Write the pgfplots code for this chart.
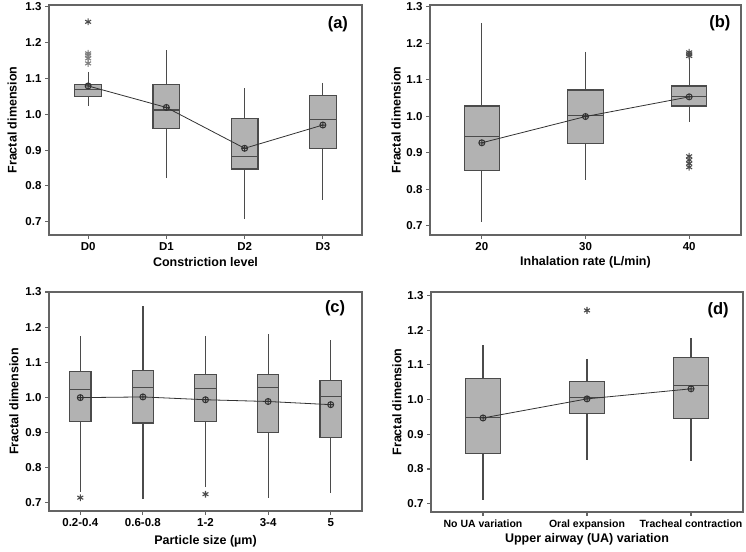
\documentclass[border=0pt]{standalone}
\usepackage{fontspec}
\setmainfont{Liberation Sans}
\usepackage{pgfplots}
\pgfplotsset{compat=1.18}
\usepgfplotslibrary{statistics}

\definecolor{boxfill}{RGB}{178,178,178}
\definecolor{boxline}{RGB}{75,75,75}
\definecolor{axisgray}{RGB}{100,100,100}
\definecolor{meanline}{RGB}{50,50,50}

\tikzset{tag/.style={font=\bfseries\fontsize{16.5}{19}\selectfont, anchor=center}}
\pgfplotsset{
  panel/.style={
    scale only axis,
    clip=false,
    axis line style={axisgray, line width=1.1pt},
    tick style={axisgray, line width=1.1pt},
    tick align=outside,
    xtick pos=bottom, ytick pos=left,
    major tick length=4pt,
    ytick={0.7,0.8,0.9,1.0,1.1,1.2,1.3},
    /pgf/number format/assume math mode=true,
    yticklabel style={/pgf/number format/.cd, fixed, fixed zerofill, precision=1},
    tick label style={font=\bfseries\fontsize{11.5}{13}\selectfont},
    label style={font=\bfseries\fontsize{12.5}{15}\selectfont},
    ylabel={Fractal dimension},
    boxplot/draw direction=y,
    boxplot/whisker extend=0,
  },
  bx/.style={boxline, line width=1.2pt, fill=boxfill, solid},
  out/.style={only marks, mark=asterisk, mark size=3.4pt, boxline, mark options={line width=1.1pt}},
  mn/.style={meanline, line width=0.8pt, mark=oplus, mark size=3pt, mark options={line width=1pt}},
}

\begin{document}
\begin{tikzpicture}
\useasboundingbox (0pt,0pt) rectangle (746pt,551pt);

% (a)
\begin{axis}[panel, at={(49pt,316pt)}, anchor=south west,
  width=313pt, height=230pt,
  xmin=0.5, xmax=4.5, ymin=0.663, ymax=1.305,
  xtick={1,2,3,4}, xticklabels={D0,D1,D2,D3},
  xlabel={Constriction level},
  xlabel style={at={(axis description cs:0.5,-0.117)}, anchor=center},
  ylabel style={at={(axis description cs:-0.118,0.5)}, anchor=center}]
\addplot[bx, boxplot prepared={draw position=1, box extend=0.34,
  lower whisker=1.023, lower quartile=1.049, median=1.069, upper quartile=1.084, upper whisker=1.119}] coordinates {};
\addplot[bx, boxplot prepared={draw position=2, box extend=0.34,
  lower whisker=0.821, lower quartile=0.960, median=1.012, upper quartile=1.083, upper whisker=1.179}] coordinates {};
\addplot[bx, boxplot prepared={draw position=3, box extend=0.34,
  lower whisker=0.707, lower quartile=0.847, median=0.883, upper quartile=0.988, upper whisker=1.072}] coordinates {};
\addplot[bx, boxplot prepared={draw position=4, box extend=0.34,
  lower whisker=0.762, lower quartile=0.905, median=0.986, upper quartile=1.052, upper whisker=1.088}] coordinates {};
\addplot[out] coordinates {(1,1.258)};
\addplot[out, gray] coordinates {(1,1.170) (1,1.165) (1,1.156) (1,1.142)};
\addplot[mn] coordinates {(1,1.079) (2,1.019) (3,0.905) (4,0.970)};
\node[tag] at (axis description cs:0.923,0.917) {(a)};
\end{axis}

% (b)
\begin{axis}[panel, at={(430pt,316pt)}, anchor=south west,
  width=311pt, height=230pt,
  xmin=0.5, xmax=3.5, ymin=0.674, ymax=1.305,
  xtick={1,2,3}, xticklabels={20,30,40},
  xlabel={Inhalation rate (L/min)},
  xlabel style={at={(axis description cs:0.5,-0.117)}, anchor=center},
  ylabel style={at={(axis description cs:-0.109,0.5)}, anchor=center}]
\addplot[bx, boxplot prepared={draw position=1, box extend=0.34,
  lower whisker=0.711, lower quartile=0.850, median=0.944, upper quartile=1.028, upper whisker=1.256}] coordinates {};
\addplot[bx, boxplot prepared={draw position=2, box extend=0.34,
  lower whisker=0.825, lower quartile=0.926, median=1.001, upper quartile=1.072, upper whisker=1.177}] coordinates {};
\addplot[bx, boxplot prepared={draw position=3, box extend=0.34,
  lower whisker=0.985, lower quartile=1.028, median=1.055, upper quartile=1.083, upper whisker=1.159}] coordinates {};
\addplot[out] coordinates {(3,1.175) (3,1.170) (3,1.165) (3,0.890) (3,0.880) (3,0.870) (3,0.860)};
\addplot[mn] coordinates {(1,0.927) (2,0.999) (3,1.053)};
\node[tag] at (axis description cs:0.932,0.922) {(b)};
\end{axis}

% (c)
\begin{axis}[panel, at={(49pt,40pt)}, anchor=south west,
  width=313pt, height=219pt,
  xmin=0.5, xmax=5.5, ymin=0.676, ymax=1.300,
  xtick={1,2,3,4,5}, xticklabels={0.2-0.4,0.6-0.8,1-2,3-4,5},
  xlabel={Particle size (µm)},
  xlabel style={at={(axis description cs:0.5,-0.137)}, anchor=center},
  ylabel style={at={(axis description cs:-0.112,0.5)}, anchor=center}]
\addplot[bx, boxplot prepared={draw position=1, box extend=0.34,
  lower whisker=0.730, lower quartile=0.930, median=1.022, upper quartile=1.073, upper whisker=1.174}] coordinates {};
\addplot[bx, boxplot prepared={draw position=2, box extend=0.34,
  lower whisker=0.709, lower quartile=0.927, median=1.027, upper quartile=1.076, upper whisker=1.259}] coordinates {};
\addplot[bx, boxplot prepared={draw position=3, box extend=0.34,
  lower whisker=0.743, lower quartile=0.930, median=1.025, upper quartile=1.064, upper whisker=1.174}] coordinates {};
\addplot[bx, boxplot prepared={draw position=4, box extend=0.34,
  lower whisker=0.714, lower quartile=0.900, median=1.029, upper quartile=1.065, upper whisker=1.181}] coordinates {};
\addplot[bx, boxplot prepared={draw position=5, box extend=0.34,
  lower whisker=0.727, lower quartile=0.885, median=1.003, upper quartile=1.048, upper whisker=1.162}] coordinates {};
\addplot[out] coordinates {(1,0.714) (3,0.724)};
\addplot[mn] coordinates {(1,0.999) (2,1.001) (3,0.993) (4,0.988) (5,0.979)};
\node[tag] at (axis description cs:0.914,0.927) {(c)};
\end{axis}

% (d)
\begin{axis}[panel, at={(431pt,39pt)}, anchor=south west,
  width=312pt, height=220pt,
  xmin=0.5, xmax=3.5, ymin=0.676, ymax=1.310,
  xtick={1,2,3}, xticklabels={No UA variation,Oral expansion,Tracheal contraction},
  xticklabel style={font=\bfseries\fontsize{10.5}{12}\selectfont},
  xlabel={Upper airway (UA) variation},
  xlabel style={at={(axis description cs:0.5,-0.123)}, anchor=center},
  ylabel style={at={(axis description cs:-0.109,0.5)}, anchor=center}]
\addplot[bx, boxplot prepared={draw position=1, box extend=0.34,
  lower whisker=0.711, lower quartile=0.844, median=0.948, upper quartile=1.060, upper whisker=1.157}] coordinates {};
\addplot[bx, boxplot prepared={draw position=2, box extend=0.34,
  lower whisker=0.825, lower quartile=0.960, median=1.007, upper quartile=1.051, upper whisker=1.118}] coordinates {};
\addplot[bx, boxplot prepared={draw position=3, box extend=0.34,
  lower whisker=0.823, lower quartile=0.945, median=1.041, upper quartile=1.122, upper whisker=1.178}] coordinates {};
\addplot[out] coordinates {(2,1.257)};
\addplot[mn] coordinates {(1,0.947) (2,1.002) (3,1.031)};
\node[tag] at (axis description cs:0.920,0.918) {(d)};
\end{axis}
\end{tikzpicture}
\end{document}
